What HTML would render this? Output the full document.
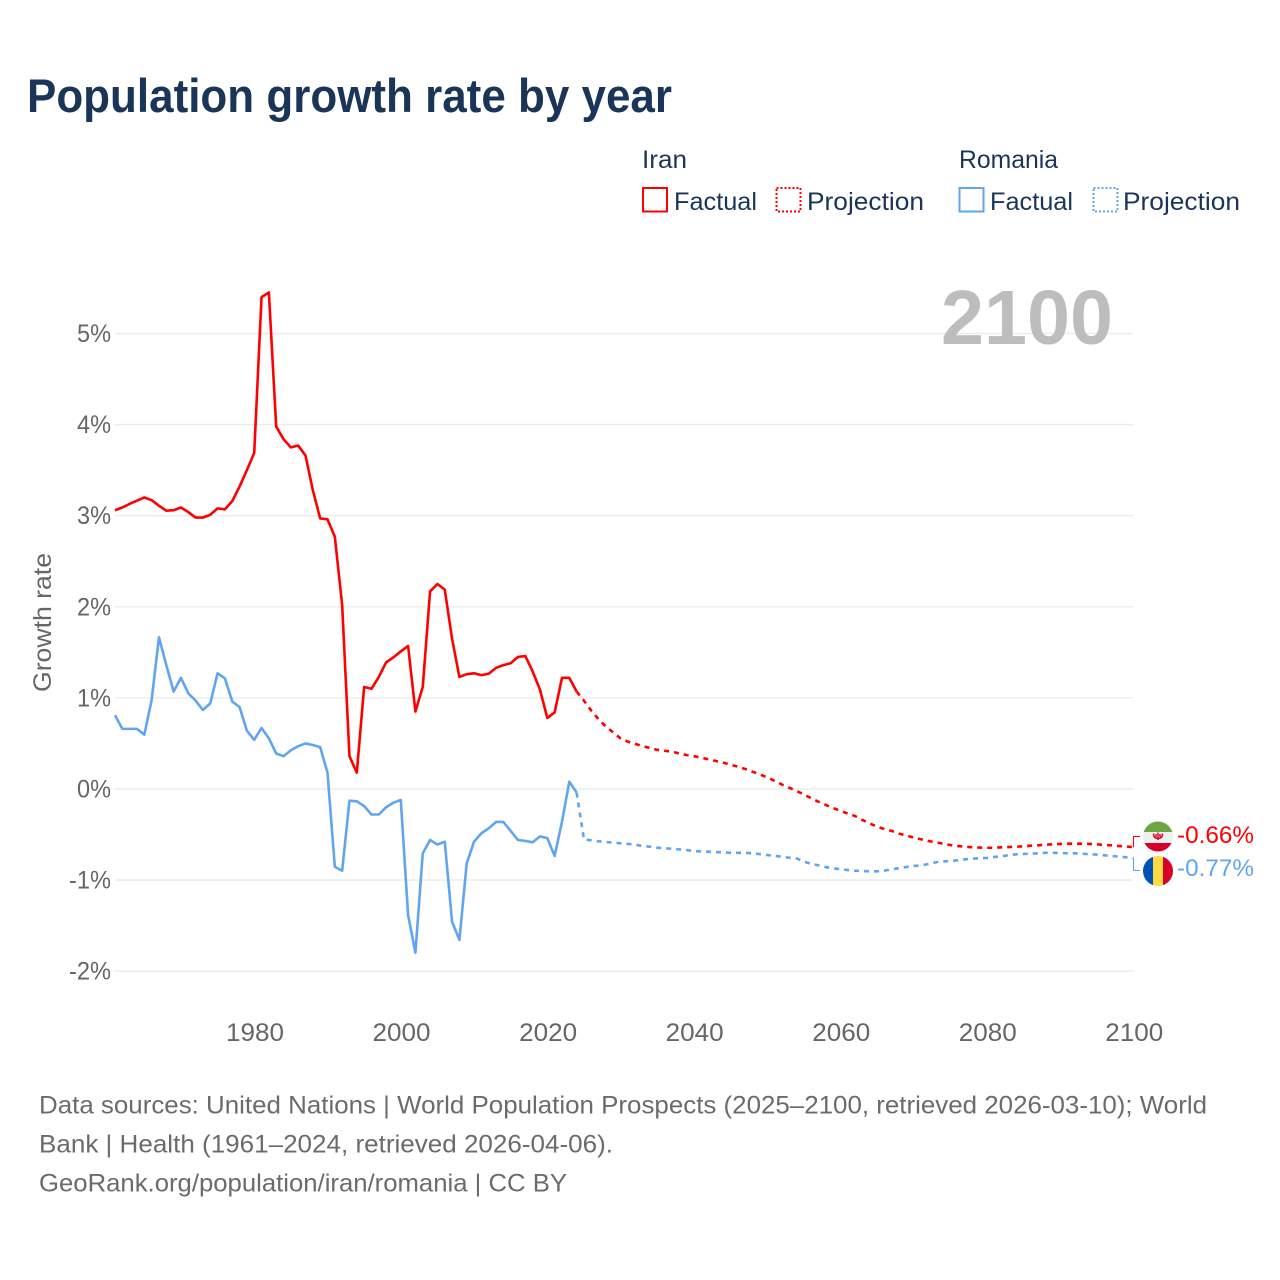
<!DOCTYPE html>
<html lang="en">
<head>
<meta charset="utf-8">
<title>Population growth rate by year</title>
<style>
html,body{margin:0;padding:0;background:#fff;}
svg{display:block;font-family:"Liberation Sans",sans-serif;}
</style>
</head>
<body>
<svg id="chart" xmlns="http://www.w3.org/2000/svg" width="1280" height="1280" viewBox="0 0 1280 1280">
  <rect x="0" y="0" width="1280" height="1280" fill="#ffffff"/>
  <text x="27" y="112" font-size="47" font-weight="700" fill="#1a3557" textLength="645" lengthAdjust="spacingAndGlyphs">Population growth rate by year</text>

  <g font-size="25" fill="#1a3557">
    <text x="642" y="168" textLength="45" lengthAdjust="spacingAndGlyphs">Iran</text>
    <text x="959" y="168" textLength="99" lengthAdjust="spacingAndGlyphs">Romania</text>
    <rect x="643" y="188" width="24" height="23.5" fill="none" stroke="#ff0000" stroke-width="2"/>
    <text x="674" y="210" textLength="83" lengthAdjust="spacingAndGlyphs">Factual</text>
    <rect x="776.5" y="188" width="24" height="23.5" fill="none" stroke="#ff0000" stroke-width="2" stroke-dasharray="2 2"/>
    <text x="807" y="210" textLength="117" lengthAdjust="spacingAndGlyphs">Projection</text>
    <rect x="959.5" y="188" width="24" height="23.5" fill="none" stroke="#60a5ef" stroke-width="2"/>
    <text x="990" y="210" textLength="83" lengthAdjust="spacingAndGlyphs">Factual</text>
    <rect x="1093.5" y="188" width="24" height="23.5" fill="none" stroke="#60a5ef" stroke-width="2" stroke-dasharray="2 2"/>
    <text x="1123" y="210" textLength="117" lengthAdjust="spacingAndGlyphs">Projection</text>
  </g>

  <g id="grid"></g>
  <g id="y-ticks"></g>
  <g id="x-ticks"></g>
  <text transform="translate(51 622.5) rotate(-90)" text-anchor="middle" font-size="25" fill="#666666" textLength="139" lengthAdjust="spacingAndGlyphs">Growth rate</text>
  <text x="941" y="344" font-size="77" font-weight="700" fill="#bdbdbd" textLength="172" lengthAdjust="spacingAndGlyphs">2100</text>

  <g id="series"></g>

  <g>
    <clipPath id="clip-iran"><circle cx="1158" cy="836.5" r="15"/></clipPath>
    <g clip-path="url(#clip-iran)">
      <rect x="1143" y="821" width="30" height="12" fill="#6da544"/>
      <rect x="1143" y="832" width="30" height="11" fill="#f0f0f0"/>
      <rect x="1143" y="843" width="30" height="9" fill="#d80027"/>
      <path d="M1153.5 833.5c0 3.6 2 5 4.5 5s4.500-1.400 4.500-5M1158 832.500v7.500M1156 834v3M1160 834v3" fill="none" stroke="#d80027" stroke-width="1.400"/>
    </g>
    <text x="1177" y="843" font-size="24" fill="#ff0000" textLength="77" lengthAdjust="spacingAndGlyphs">-0.66%</text>
  </g>
  <g>
    <clipPath id="clip-romania"><circle cx="1158" cy="871" r="15"/></clipPath>
    <g clip-path="url(#clip-romania)">
      <rect x="1143" y="856" width="10" height="30" fill="#0052b4"/>
      <rect x="1153" y="856" width="10" height="30" fill="#ffda44"/>
      <rect x="1163" y="856" width="10" height="30" fill="#d80027"/>
    </g>
    <text x="1177" y="876" font-size="24" fill="#60a5ef" textLength="77" lengthAdjust="spacingAndGlyphs">-0.77%</text>
  </g>

  <g font-size="25" fill="#6b6b6b">
    <text x="39" y="1113.500" textLength="1168" lengthAdjust="spacingAndGlyphs">Data sources: United Nations | World Population Prospects (2025–2100, retrieved 2026-03-10); World</text>
    <text x="39" y="1152.500" textLength="574" lengthAdjust="spacingAndGlyphs">Bank | Health (1961–2024, retrieved 2026-04-06).</text>
    <text x="39" y="1191.500" textLength="528" lengthAdjust="spacingAndGlyphs">GeoRank.org/population/iran/romania | CC BY</text>
  </g>
</svg>

<script>
const factualStartYear = 1961;
const projectionStartYear = 2024;
const yTickValues = [5, 4, 3, 2, 1, 0, -1, -2];
const xTickValues = [1980, 2000, 2020, 2040, 2060, 2080, 2100];

const iranFactual = [3.06,3.09,3.13,3.165,3.20,3.17,3.11,3.055,3.06,3.09,3.04,2.98,2.98,3.01,3.08,3.07,3.16,3.32,3.50,3.69,5.40,5.45,3.98,3.84,3.75,3.77,3.66,3.28,2.97,2.96,2.77,2.02,0.36,0.18,1.12,1.10,1.23,1.39,1.445,1.51,1.57,0.85,1.12,2.17,2.25,2.19,1.65,1.23,1.26,1.27,1.25,1.265,1.33,1.36,1.38,1.45,1.46,1.29,1.09,0.78,0.84,1.22,1.22,1.07];

const iranProjection = [1.07,0.97,0.86,0.765,0.685,0.62,0.555,0.52,0.495,0.47,0.45,0.43,0.42,0.41,0.39,0.373,0.36,0.345,0.325,0.307,0.29,0.267,0.245,0.22,0.19,0.16,0.128,0.09,0.05,0.014,-0.02,-0.06,-0.10,-0.14,-0.175,-0.21,-0.238,-0.27,-0.296,-0.34,-0.377,-0.414,-0.44,-0.46,-0.49,-0.51,-0.534,-0.552,-0.57,-0.585,-0.60,-0.615,-0.626,-0.633,-0.64,-0.643,-0.645,-0.645,-0.64,-0.637,-0.633,-0.63,-0.622,-0.618,-0.61,-0.607,-0.603,-0.60,-0.60,-0.60,-0.603,-0.607,-0.615,-0.618,-0.626,-0.63,-0.64];

const romaniaFactual = [0.81,0.66,0.66,0.66,0.596,0.977,1.665,1.36,1.07,1.22,1.05,0.97,0.867,0.94,1.27,1.215,0.96,0.90,0.64,0.54,0.67,0.556,0.39,0.36,0.425,0.47,0.50,0.483,0.46,0.18,-0.853,-0.897,-0.128,-0.135,-0.187,-0.28,-0.28,-0.20,-0.15,-0.12,-1.383,-1.797,-0.706,-0.56,-0.61,-0.578,-1.456,-1.657,-0.816,-0.578,-0.487,-0.432,-0.362,-0.362,-0.46,-0.56,-0.57,-0.585,-0.52,-0.54,-0.735,-0.36,0.08,-0.04];

const romaniaProjection = [-0.04,-0.552,-0.563,-0.574,-0.582,-0.589,-0.596,-0.603,-0.611,-0.626,-0.633,-0.644,-0.652,-0.655,-0.663,-0.67,-0.681,-0.685,-0.688,-0.692,-0.696,-0.70,-0.70,-0.70,-0.707,-0.714,-0.725,-0.733,-0.744,-0.754,-0.761,-0.798,-0.82,-0.838,-0.857,-0.871,-0.88,-0.89,-0.897,-0.90,-0.904,-0.904,-0.897,-0.88,-0.87,-0.856,-0.845,-0.84,-0.823,-0.805,-0.795,-0.79,-0.783,-0.772,-0.765,-0.76,-0.757,-0.746,-0.74,-0.725,-0.717,-0.713,-0.71,-0.706,-0.70,-0.70,-0.703,-0.706,-0.706,-0.71,-0.717,-0.72,-0.728,-0.735,-0.742,-0.75,-0.76];

const SVG_NS = 'http://www.w3.org/2000/svg';
function xScale(year) { return 115 + (year - 1961) * (1133.5 - 115) / (2100 - 1961); }
function yScale(value) { return 789 - value * 91.1; }

const gridLayer = document.getElementById('grid');
const yTickLayer = document.getElementById('y-ticks');
const xTickLayer = document.getElementById('x-ticks');
const seriesLayer = document.getElementById('series');

yTickValues.forEach(function (tick) {
  const line = document.createElementNS(SVG_NS, 'line');
  
  
  line.setAttribute('x1', 115);
  line.setAttribute('x2', 1133);
  line.setAttribute('y1', yScale(tick));
  line.setAttribute('y2', yScale(tick));
  line.setAttribute('stroke', '#ebebeb');
  line.setAttribute('stroke-width', '1.4');
  gridLayer.appendChild(line);

  const label = document.createElementNS(SVG_NS, 'text');
  
  
  label.setAttribute('x', 111);
  label.setAttribute('y', yScale(tick) + 8.5);
  label.setAttribute('text-anchor', 'end');
  label.setAttribute('font-size', '25');
  label.setAttribute('fill', '#666666');
  label.setAttribute('textLength', tick < 0 ? 42 : 34);
  label.setAttribute('lengthAdjust', 'spacingAndGlyphs');
  label.textContent = tick + '%';
  yTickLayer.appendChild(label);
});

xTickValues.forEach(function (tick) {
  const label = document.createElementNS(SVG_NS, 'text');
  
  
  label.setAttribute('x', xScale(tick) + 0.8);
  label.setAttribute('y', 1041);
  label.setAttribute('text-anchor', 'middle');
  label.setAttribute('font-size', '25');
  label.setAttribute('fill', '#666666');
  label.setAttribute('textLength', 58);
  label.setAttribute('lengthAdjust', 'spacingAndGlyphs');
  label.textContent = tick;
  xTickLayer.appendChild(label);
});

function linePoints(values, startYear) {
  return values.map(function (value, i) {
    return xScale(startYear + i).toFixed(2) + ',' + yScale(value).toFixed(2);
  }).join(' ');
}

function drawSeries(name, values, startYear, color, dashed) {
  const path = document.createElementNS(SVG_NS, 'polyline');
  
  
  path.setAttribute('points', linePoints(values, startYear));
  path.setAttribute('fill', 'none');
  path.setAttribute('stroke', color);
  path.setAttribute('stroke-width', '2.6');
  path.setAttribute('stroke-linejoin', 'round');
  if (dashed) path.setAttribute('stroke-dasharray', '5 5');
  seriesLayer.appendChild(path);
}

drawSeries('romania-factual-line', romaniaFactual, factualStartYear, '#60a5ef', false);
drawSeries('romania-projection-line', romaniaProjection, projectionStartYear, '#60a5ef', true);
drawSeries('iran-factual-line', iranFactual, factualStartYear, '#ff0000', false);
drawSeries('iran-projection-line', iranProjection, projectionStartYear, '#ff0000', true);

function drawConnector(name, values, color, labelY) {
  const end = values[values.length - 1];
  const path = document.createElementNS(SVG_NS, 'polyline');
  
  
  path.setAttribute('points', xScale(2100) + ',' + yScale(end) + ' ' + xScale(2100) + ',' + labelY + ' 1140,' + labelY);
  path.setAttribute('fill', 'none');
  path.setAttribute('stroke', color);
  path.setAttribute('stroke-width', '1');
  seriesLayer.appendChild(path);
}

drawConnector('iran-label-connector', iranProjection, '#ff0000', 836.5);
drawConnector('romania-label-connector', romaniaProjection, '#60a5ef', 870.5);
</script>
</body>
</html>
